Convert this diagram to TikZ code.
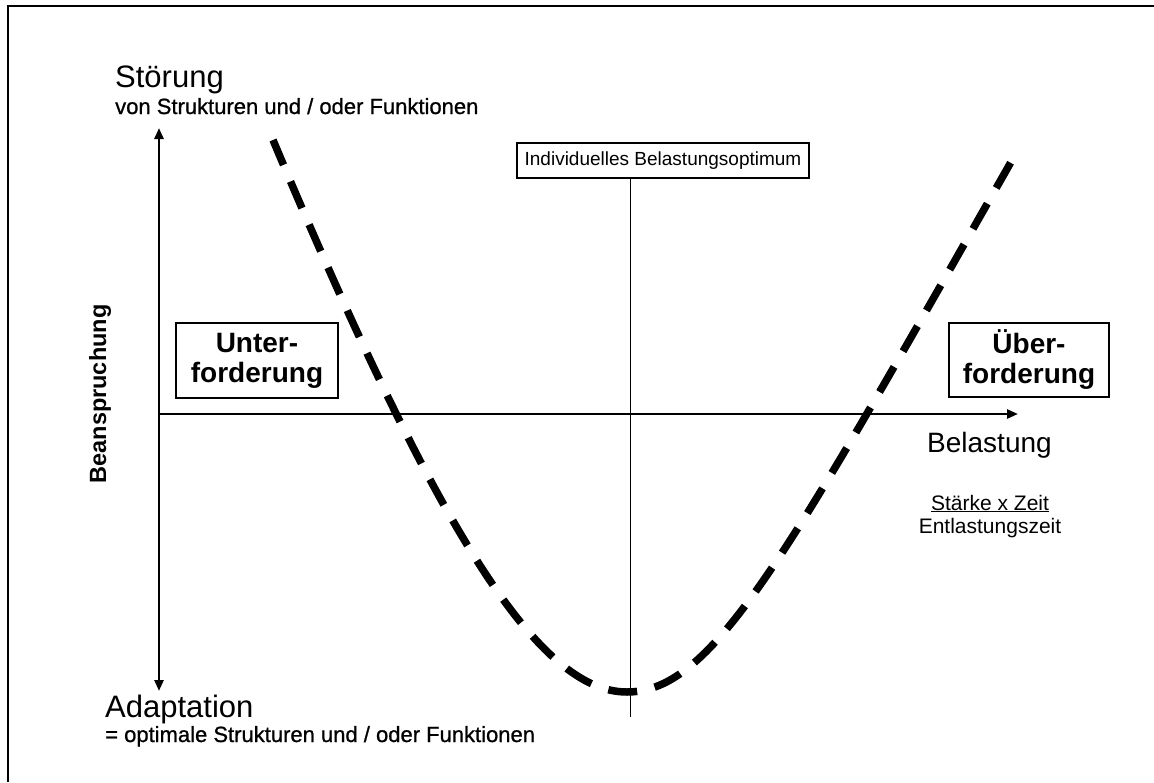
\documentclass[tikz,border=0pt]{standalone}
\usepackage{fontspec}
\setmainfont{Liberation Sans}
% slightly heavier regular face for the axis subtitles
\newfontfamily\medfont{Liberation Sans}[BoldFont={Liberation Sans},BoldFeatures={FakeBold=0.9}]
\usetikzlibrary{arrows.meta}
\begin{document}
\begin{tikzpicture}[x=1pt,y=-1pt,
  frame/.style={line width=2pt},
  axis/.style={line width=2.5pt},
  tip/.style={-{Triangle[length=11pt,width=9pt]}},
  bothtips/.style={{Triangle[length=11pt,width=9pt]}-{Triangle[length=11pt,width=9pt]}},
  curve/.style={line width=7.5pt,dash pattern=on 29pt off 18pt,dash phase=2pt},
  labelbox/.style={draw,line width=1.2pt,inner sep=0pt,align=center},
  bigtext/.style={font=\fontsize{31}{37}\selectfont},
  subtext/.style={font=\medfont\bfseries\fontsize{22}{26}\selectfont},
  zonetext/.style={font=\bfseries\fontsize{28}{30}\selectfont},
  smalltext/.style={font=\fontsize{21}{25}\selectfont},
]
\useasboundingbox (0,0) rectangle (1154,782);

% partial outer frame (top and left edges)
\draw[frame] (8,782) |- (1154,6);

% axes
\coordinate (ytop) at (159,128);
\coordinate (ybot) at (159,691);
\coordinate (xstart) at (159,414);
\coordinate (xend) at (1018,414);
\draw[axis,bothtips] (ybot) -- (ytop);
\draw[axis,tip] (xstart) -- (xend);

% axis labels
\node[bigtext,anchor=base west,inner sep=0pt] (stoer) at (115,87) {Störung};
\node[subtext,anchor=base west,inner sep=0pt] (stoersub) at (115,114) {von Strukturen und / oder Funktionen};
\node[bigtext,anchor=base west,inner sep=0pt] (adapt) at (105,717) {Adaptation};
\node[subtext,anchor=base west,inner sep=0pt] (adaptsub) at (105,742) {= optimale Strukturen und / oder Funktionen};
\node[font=\bfseries\fontsize{23.5}{28}\selectfont,rotate=90,inner sep=0pt] (beans) at (100,394) {Beanspruchung};
\node[font=\fontsize{28}{33}\selectfont,anchor=base west,inner sep=0pt] (bel) at (927,452) {Belastung};
\node[smalltext,anchor=base,inner sep=0pt] (frac1) at (990,510) {\underline{Stärke x Zeit}};
\node[smalltext,anchor=base,inner sep=0pt] (frac2) at (990,533) {Entlastungszeit};

% zone boxes
\node[labelbox,zonetext,minimum width=162pt,minimum height=75pt] (unter) at (257,360.5) {Unter-\\forderung};
\node[labelbox,zonetext,minimum width=160pt,minimum height=74pt] (ueber) at (1029,360) {Über-\\forderung};

% optimum marker
\node[labelbox,font=\fontsize{19}{23}\selectfont,minimum width=292pt,minimum height=35pt] (opt) at (663,160.5) {Individuelles Belastungsoptimum};
\coordinate (optfoot) at (630,717);
\draw[line width=1pt] (opt.south -| optfoot) -- (optfoot);

% load-response curve
\draw[curve] (273,140) .. controls (441,540) and (540,692) .. (627,692)
  .. controls (714,692) and (787,555) .. (1015,155);
\end{tikzpicture}
\end{document}
